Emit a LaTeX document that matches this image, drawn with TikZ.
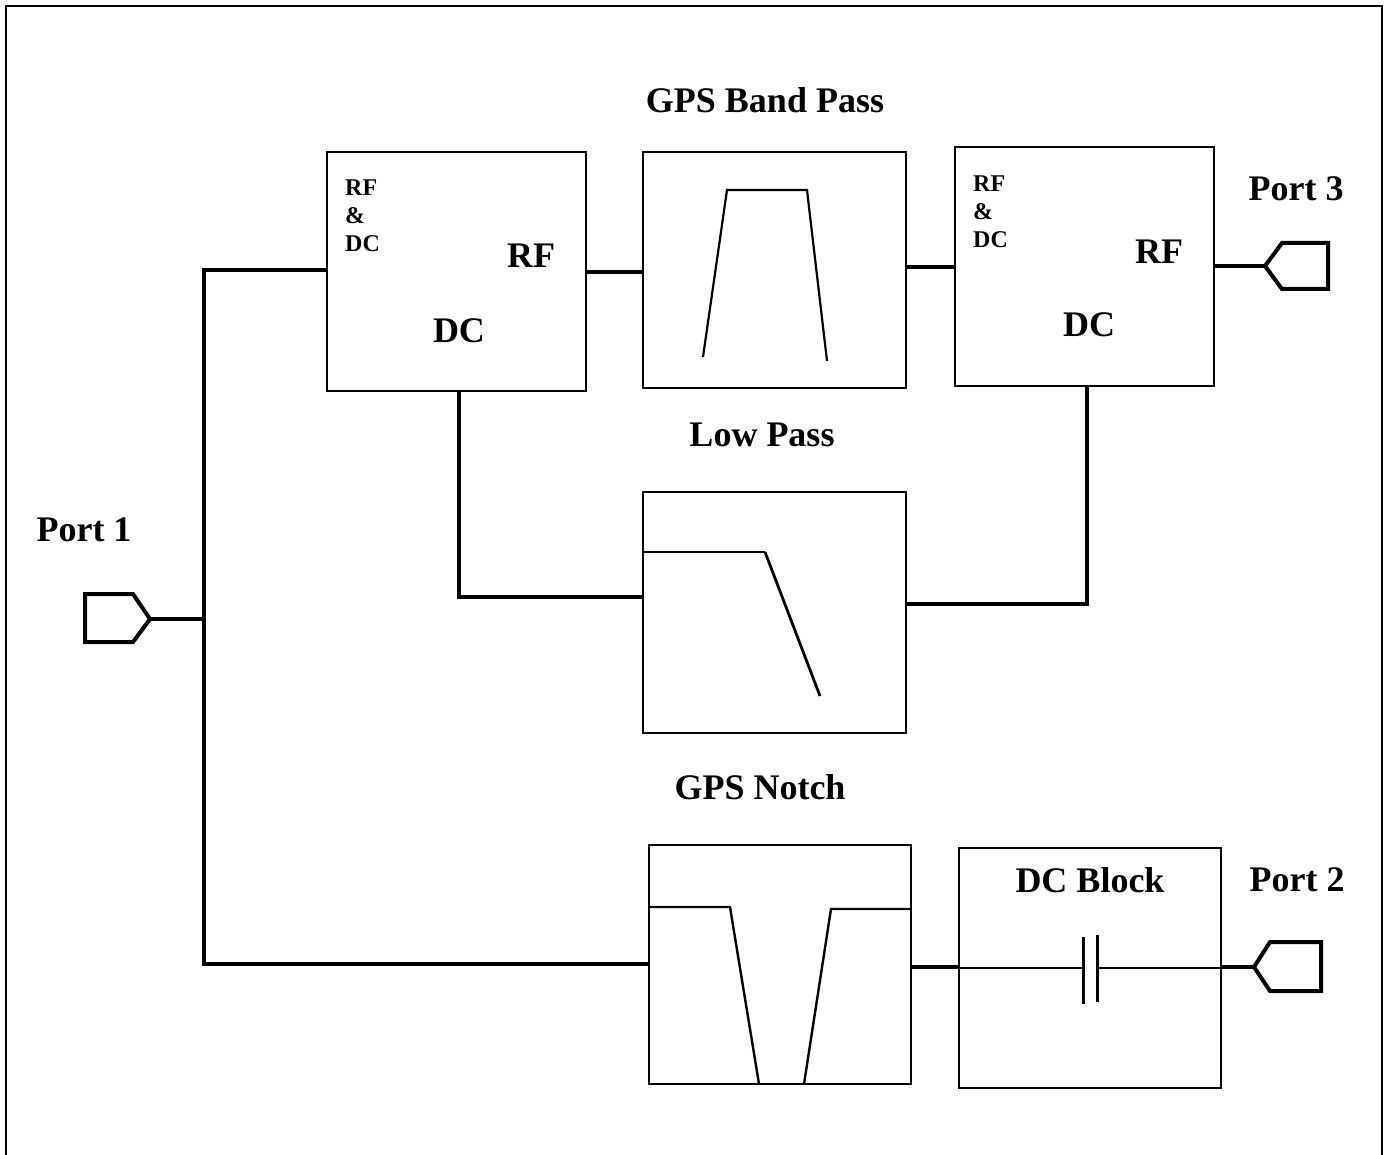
\documentclass[tikz,border=0pt]{standalone}
\usepackage{fontspec}
\setmainfont{Liberation Serif}
\begin{document}
\begin{tikzpicture}[x=1pt,y=-1pt,
  box/.style={draw=black,line width=2pt,fill=white,inner sep=0pt,anchor=north west,outer sep=0pt},
  wire/.style={draw=black,line width=3.3pt},
  thin wire/.style={draw=black,line width=1.8pt},
  port/.style={draw=black,line width=4pt,line join=miter},
  big/.style={font=\bfseries\fontsize{36}{38}\selectfont,inner sep=0pt},
  lab/.style={font=\bfseries\fontsize{36}{38}\selectfont,inner sep=0pt},
  small/.style={font=\bfseries\fontsize{24}{28}\selectfont,inner sep=0pt,align=left}]
\useasboundingbox (0,0) rectangle (1390,1155);
\fill[white] (0,0) rectangle (1390,1155);
\draw[line width=2pt] (6,1160) -- (6,6) -- (1382,6) -- (1382,1160);
% boxes
\node[box,minimum width=258.6pt,minimum height=238.4pt] (d1) at (327.2,152.2) {};
\node[box,minimum width=262.6pt,minimum height=235.4pt] (bp) at (643.2,152.2) {};
\node[box,minimum width=258.6pt,minimum height=238.4pt] (d2) at (955.2,147.2) {};
\node[box,minimum width=262.6pt,minimum height=240.4pt] (lp) at (643.2,492.2) {};
\node[box,minimum width=261.6pt,minimum height=238.4pt] (gn) at (649.2,845.2) {};
\node[box,minimum width=261.6pt,minimum height=239.4pt] (dc) at (959.2,848.2) {};
% ports
\node[inner sep=0pt,minimum size=0pt] (p1) at (150,619) {};
\node[inner sep=0pt,minimum size=0pt] (p3) at (1265,266) {};
\node[inner sep=0pt,minimum size=0pt] (p2) at (1254,967) {};
\draw[port] (p1.center) -- (133,594) -- (85,594) -- (85,642) -- (133,642) -- cycle;
\draw[port] (p3.center) -- (1282,243) -- (1328,243) -- (1328,289) -- (1282,289) -- cycle;
\draw[port] (p2.center) -- (1270,942) -- (1321,942) -- (1321,991) -- (1270,991) -- cycle;
% wires
\coordinate (j) at (204,619);
\draw[wire] (p1.center) -- (j);
\draw[wire,line join=miter] (d1.west |- 0,270) -- (204,270) -- (204,964) -- (gn.west |- 0,964);
\draw[wire] (d1.east |- 0,272) -- (bp.west |- 0,272);
\draw[wire] (bp.east |- 0,267) -- (d2.west |- 0,267);
\draw[wire] (d2.east |- 0,266) -- (p3.center);
\draw[wire] (459,391) -- (459,597) -- (lp.west |- 0,597);
\draw[wire] (lp.east |- 0,604) -- (1087,604) -- (1087,386);
\draw[wire,line width=4.4pt] (gn.east |- 0,967) -- (dc.west |- 0,967);
\draw[wire,line width=4.4pt] (dc.east |- 0,967) -- (p2.center);
% responses
\draw[thin wire,line width=2.2pt] (703,357) -- (727,190) -- (807,190) -- (827,361);
\draw[thin wire] (644,552) -- (765,552);
\draw[thin wire,line width=2.8pt] (765,552) -- (820,696);
\draw[thin wire,line width=2.4pt] (650,907) -- (730,907) -- (759,1084);
\draw[thin wire,line width=2.4pt] (804,1084) -- (831,909) -- (910,909);
% capacitor
\draw[thin wire] (960,968) -- (1083,968);
\draw[thin wire] (1097,968) -- (1220,968);
\draw[thin wire,line width=3pt] (1083,937) -- (1083,1004);
\draw[thin wire,line width=3pt] (1097.5,935) -- (1097.5,1002);
% labels
\node[lab] (t1) at (765,100) {GPS Band Pass};
\node[lab] (t2) at (762,435) {Low Pass};
\node[lab] (t3) at (760,787) {GPS Notch};
\node[lab] (t4) at (1090,880) {DC Block};
\node[lab] (t5) at (84,530) {Port 1};
\node[lab] (t6) at (1296,189) {Port 3};
\node[lab] (t7) at (1297,880) {Port 2};
\node[big] (r1) at (531,256) {RF};
\node[big] (r2) at (459,331) {DC};
\node[big] (r3) at (1159,252) {RF};
\node[big] (r4) at (1089,325) {DC};
\node[small,anchor=north west] (s1) at (345,180) {RF\\\&\\DC};
\node[small,anchor=north west] (s2) at (973,176) {RF\\\&\\DC};
\end{tikzpicture}
\end{document}
